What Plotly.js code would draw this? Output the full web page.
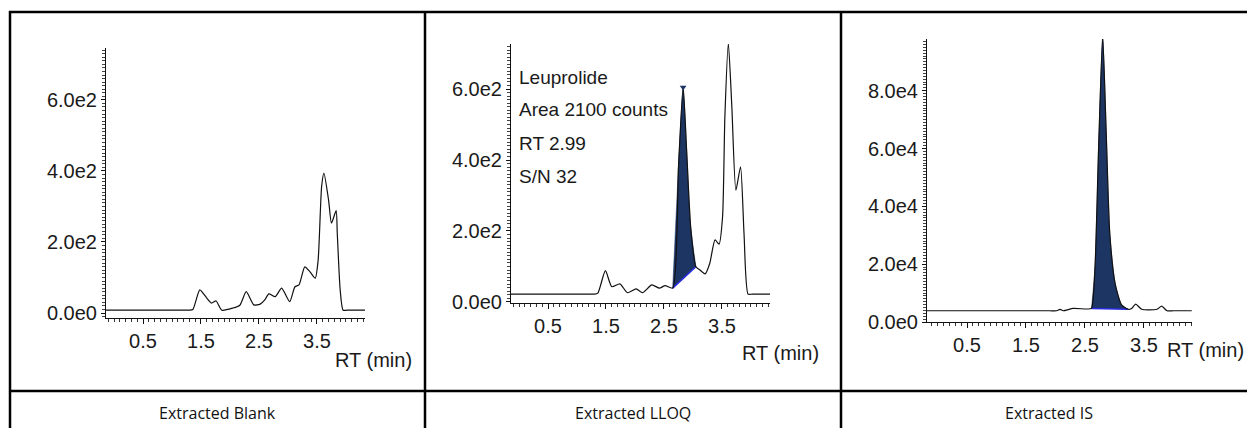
<!DOCTYPE html>
<html>
<head>
<meta charset="utf-8">
<script src="https://cdn.plot.ly/plotly-3.0.1.min.js"></script>
<style>
  html, body { margin: 0; padding: 0; background: #ffffff; }
  #chart { width: 1247px; height: 428px; }
</style>
</head>
<body>
<div id="chart"></div>
<script>
// ---------- DATA ----------
// Extracted Blank chromatogram
var blankRT = [-0.14, 0.60, 1.20, 1.30, 1.36, 1.48, 1.60, 1.68, 1.76, 1.86, 2.05, 2.17, 2.28, 2.41, 2.52, 2.60, 2.67, 2.78, 2.89, 3.03, 3.12, 3.19, 3.29, 3.38, 3.47, 3.52, 3.58, 3.62, 3.70, 3.75, 3.83, 3.85, 3.90, 3.95, 4.02, 4.15, 4.33];
var blankI  = [8, 8, 8, 8, 10, 65, 42, 28, 34, 8, 14, 22, 60, 23, 25, 37, 54, 46, 70, 32, 74, 79, 130, 116, 98, 149, 356, 394, 318, 253, 288, 224, 65, 8, 8, 8, 8];

// Extracted LLOQ chromatogram
var lloqRT = [-0.14, 0.60, 1.20, 1.30, 1.36, 1.49, 1.60, 1.74, 1.87, 2.02, 2.13, 2.29, 2.42, 2.52, 2.65, 2.75, 2.83, 2.89, 2.96, 3.05, 3.12, 3.21, 3.29, 3.38, 3.45, 3.51, 3.55, 3.61, 3.67, 3.74, 3.82, 3.88, 3.95, 4.02, 4.15, 4.33];
var lloqI  = [22, 22, 22, 22, 25, 88, 43, 51, 26, 37, 26, 48, 39, 46, 39, 381, 605, 428, 212, 99, 90, 79, 109, 175, 163, 240, 522, 729, 550, 315, 381, 193, 22, 22, 22, 22];
var lloqPeakStart = 2.65, lloqPeakEnd = 3.05;
var lloqInfo = ["Leuprolide", "Area 2100 counts", "RT 2.99", "S/N 32"];

// Extracted IS chromatogram
var isRT = [-0.18, 0.60, 1.40, 1.90, 2.02, 2.08, 2.13, 2.30, 2.53, 2.61, 2.67, 2.73, 2.80, 2.86, 2.92, 3.01, 3.12, 3.23, 3.29, 3.36, 3.46, 3.72, 3.80, 3.89, 4.00, 4.15, 4.31];
var isI  = [3900, 3900, 3900, 3900, 3900, 4400, 3900, 4700, 4500, 4700, 19100, 59500, 98700, 65300, 30700, 13400, 5900, 4400, 4700, 6200, 4400, 4400, 5500, 3900, 3900, 3900, 3900];
var isPeakStart = 2.61, isPeakEnd = 3.23;

// tick labels
var xTickStart = 0.5;
var blankTickVals = [0, 200, 400, 600];
var blankTickText = ["0.0e0", "2.0e2", "4.0e2", "6.0e2"];
var lloqTickVals = [0, 200, 400, 600];
var lloqTickText = ["0.0e0", "2.0e2", "4.0e2", "6.0e2"];
var isTickVals = [0, 20000, 40000, 60000, 80000];
var isTickText = ["0.0e0", "2.0e4", "4.0e4", "6.0e4", "8.0e4"];
var captions = ["Extracted Blank", "Extracted LLOQ", "Extracted IS"];
var xTitle = "RT (min)";

// ---------- LAYOUT HELPERS ----------
var W = 1247, H = 428;
function px(x) { return x / W; }
function py(y) { return (H - y) / H; }

var lineColor = "#111111";
var fillColor = "#1d3563";
var baseColor = "#2a2ae0";
var tickFont = { family: "Liberation Sans, Arial, sans-serif", size: 20, color: "#1a1a1a" };

function peakSlice(xs, ys, a, b) {
  var ox = [], oy = [];
  for (var i = 0; i < xs.length; i++) {
    if (xs[i] >= a - 1e-9 && xs[i] <= b + 1e-9) { ox.push(xs[i]); oy.push(ys[i]); }
  }
  return { x: ox, y: oy };
}
function peakTop(s) {
  var k = 0;
  for (var i = 1; i < s.y.length; i++) if (s.y[i] > s.y[k]) k = i;
  return { x: s.x[k], y: s.y[k] };
}

var lloqPk = peakSlice(lloqRT, lloqI, lloqPeakStart, lloqPeakEnd);
var isPk = peakSlice(isRT, isI, isPeakStart, isPeakEnd);
var lloqTop = peakTop(lloqPk);
var isTop = peakTop(isPk);

var traces = [
  { x: lloqPk.x, y: lloqPk.y, xaxis: "x2", yaxis: "y2", mode: "lines", fill: "toself",
    fillcolor: fillColor, line: { color: fillColor, width: 0.5, shape: "spline", smoothing: 0.6 }, hoverinfo: "skip" },
  { x: [lloqPk.x[0], lloqPk.x[lloqPk.x.length - 1]], y: [lloqPk.y[0], lloqPk.y[lloqPk.y.length - 1]],
    xaxis: "x2", yaxis: "y2", mode: "lines", line: { color: baseColor, width: 1.5 }, hoverinfo: "skip" },
  { x: isPk.x, y: isPk.y, xaxis: "x3", yaxis: "y3", mode: "lines", fill: "toself",
    fillcolor: fillColor, line: { color: fillColor, width: 0.5, shape: "spline", smoothing: 0.6 }, hoverinfo: "skip" },
  { x: [isPk.x[0], isPk.x[isPk.x.length - 1]], y: [isPk.y[0], isPk.y[isPk.y.length - 1]],
    xaxis: "x3", yaxis: "y3", mode: "lines", line: { color: baseColor, width: 1.5 }, hoverinfo: "skip" },
  { x: blankRT, y: blankI, xaxis: "x", yaxis: "y", mode: "lines",
    line: { color: lineColor, width: 1.2, shape: "spline", smoothing: 0.6 } },
  { x: lloqRT, y: lloqI, xaxis: "x2", yaxis: "y2", mode: "lines",
    line: { color: lineColor, width: 1.2, shape: "spline", smoothing: 0.6 } },
  { x: isRT, y: isI, xaxis: "x3", yaxis: "y3", mode: "lines",
    line: { color: lineColor, width: 1.2, shape: "spline", smoothing: 0.6 } },
  { x: [lloqTop.x], y: [lloqTop.y], xaxis: "x2", yaxis: "y2", mode: "markers", cliponaxis: false,
    marker: { symbol: "triangle-down", size: 6, color: "#1d3563" } },
  { x: [isTop.x], y: [isTop.y], xaxis: "x3", yaxis: "y3", mode: "markers", cliponaxis: false,
    marker: { symbol: "triangle-down", size: 6, color: "#1d3563" } }
];

function xAxis(dom, rng, anchor) {
  return {
    domain: dom, range: rng, anchor: anchor, showgrid: false, zeroline: false,
    showline: true, linecolor: "#111", linewidth: 1, mirror: false,
    tickmode: "linear", tick0: xTickStart, dtick: 1, ticks: "outside", ticklen: 5,
    tickcolor: "#111", tickwidth: 1, tickfont: tickFont,
    minor: { dtick: 0.1, tick0: 0, ticks: "outside", ticklen: 3, tickcolor: "#333", tickwidth: 1, showgrid: false },
    fixedrange: true
  };
}
function yAxis(dom, rng, anchor, vals, text, minorStep) {
  return {
    domain: dom, range: rng, anchor: anchor, showgrid: false, zeroline: false,
    showline: true, linecolor: "#111", linewidth: 1,
    tickmode: "array", tickvals: vals, ticktext: text, ticks: "outside", ticklen: 4,
    tickcolor: "#111", tickwidth: 1, tickfont: tickFont,
    minor: { tickmode: "linear", tick0: 0, dtick: minorStep, ticks: "outside", ticklen: 3, tickcolor: "#444", tickwidth: 1, showgrid: false },
    fixedrange: true
  };
}

var lblFont = { family: "Liberation Sans, Arial, sans-serif", size: 19, color: "#1a1a1a" };
var capFont = { family: "Open Sans, Noto Sans, sans-serif", size: 16, color: "#111" };

var annotations = [
  { text: xTitle, xref: "paper", yref: "paper", x: px(414), y: py(360), xanchor: "right", yanchor: "middle", showarrow: false, font: { family: lblFont.family, size: 20, color: "#1a1a1a" } },
  { text: xTitle, xref: "paper", yref: "paper", x: px(821), y: py(353), xanchor: "right", yanchor: "middle", showarrow: false, font: { family: lblFont.family, size: 20, color: "#1a1a1a" } },
  { text: xTitle, xref: "paper", yref: "paper", x: px(1246), y: py(350), xanchor: "right", yanchor: "middle", showarrow: false, font: { family: lblFont.family, size: 20, color: "#1a1a1a" } },
  { text: captions[0], xref: "paper", yref: "paper", x: px(217), y: py(413), xanchor: "center", yanchor: "middle", showarrow: false, font: capFont },
  { text: captions[1], xref: "paper", yref: "paper", x: px(633), y: py(413), xanchor: "center", yanchor: "middle", showarrow: false, font: capFont },
  { text: captions[2], xref: "paper", yref: "paper", x: px(1049), y: py(413), xanchor: "center", yanchor: "middle", showarrow: false, font: capFont }
];
var infoY = [77, 110, 143, 177];
for (var i = 0; i < lloqInfo.length; i++) {
  annotations.push({ text: lloqInfo[i], xref: "paper", yref: "paper", x: px(517), y: py(infoY[i]),
    xanchor: "left", yanchor: "middle", showarrow: false, font: lblFont });
}

function hLine(y, x0, x1) { return { type: "line", xref: "paper", yref: "paper", x0: px(x0), x1: px(x1), y0: py(y), y1: py(y), line: { color: "#000", width: 2.5 } }; }
function vLine(x, y0, y1) { return { type: "line", xref: "paper", yref: "paper", x0: px(x), x1: px(x), y0: py(y0), y1: py(y1), line: { color: "#000", width: 2.5 } }; }

var layout = {
  width: W, height: H, margin: { l: 0, r: 0, t: 0, b: 0 },
  paper_bgcolor: "#ffffff", plot_bgcolor: "rgba(0,0,0,0)", showlegend: false,
  xaxis:  xAxis([px(106), px(365)], [-0.138, 4.328], "y"),
  yaxis:  yAxis([py(318), py(48)], [-14, 746], "x", blankTickVals, blankTickText, 10),
  xaxis2: xAxis([px(511), px(770)], [-0.138, 4.328], "y2"),
  yaxis2: yAxis([py(303), py(44)], [-3, 727], "x2", lloqTickVals, lloqTickText, 10),
  xaxis3: xAxis([px(927), px(1192)], [-0.178, 4.314], "y3"),
  yaxis3: yAxis([py(322), py(39)], [0, 97900], "x3", isTickVals, isTickText, 1000),
  annotations: annotations,
  shapes: [
    hLine(12, 9, 1247), hLine(391, 9, 1247),
    vLine(10, 11, 428), vLine(425, 11, 428), vLine(841, 11, 428)
  ]
};

Plotly.newPlot("chart", traces, layout, { staticPlot: true, displayModeBar: false });
</script>
</body>
</html>
